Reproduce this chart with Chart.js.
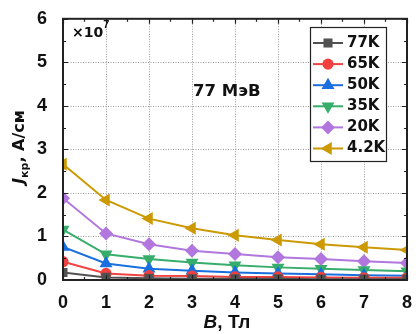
<!DOCTYPE html>
<html>
<head>
<meta charset="utf-8">
<script src="https://cdn.jsdelivr.net/npm/chart.js@4/dist/chart.umd.min.js"></script>
<style>
  html, body { margin: 0; padding: 0; background: #fff; }
  #wrap { width: 416px; height: 334px; position: relative; }
</style>
</head>
<body>
<div id="wrap"><canvas id="c" width="416" height="334"></canvas></div>
<script>
// Magnetic field, T
const fieldB = [0, 1, 2, 3, 4, 5, 6, 7, 8];
// Critical current density, units of 1e7 A/cm
const jc77K  = [0.17, 0.06, 0.04, 0.03, 0.03, 0.03, 0.02, 0.02, 0.02];
const jc65K  = [0.42, 0.15, 0.10, 0.09, 0.07, 0.07, 0.06, 0.05, 0.05];
const jc50K  = [0.76, 0.38, 0.26, 0.21, 0.17, 0.15, 0.13, 0.11, 0.10];
const jc35K  = [1.16, 0.59, 0.48, 0.40, 0.34, 0.29, 0.26, 0.23, 0.20];
const jc20K  = [1.88, 1.07, 0.82, 0.67, 0.60, 0.52, 0.48, 0.43, 0.39];
const jc4K   = [2.66, 1.84, 1.41, 1.19, 1.03, 0.92, 0.82, 0.75, 0.69];
const seriesLabels = ['77K', '65K', '50K', '35K', '20K', '4.2K'];
const yTicks = [0, 1, 2, 3, 4, 5, 6];

const SANS = '"Liberation Sans", Arial, sans-serif';
const WIDE = '"DejaVu Sans", sans-serif';
const colors = ['#515151', '#F14040', '#1A6FDF', '#37AD6B', '#B177DE', '#CC9900'];
const shapes = ['rect', 'circle', 'triangle', 'triangle', 'rectRot', 'triangle'];
const rotations = [0, 0, 0, 180, 0, -90];
const radii = [6.4, 5.6, 7.5, 7.5, 7, 7.5];
const allSeries = [jc77K, jc65K, jc50K, jc35K, jc20K, jc4K];

const datasets = allSeries.map((vals, i) => ({
  label: seriesLabels[i],
  data: fieldB.map((b, k) => ({ x: b, y: vals[k] })),
  borderColor: colors[i],
  backgroundColor: colors[i],
  borderWidth: 2,
  pointStyle: shapes[i],
  rotation: rotations[i],
  pointRadius: radii[i],
  pointBorderWidth: 0,
  clip: 0,
  tension: 0
}));

// Dotted grid under the data
const dottedGrid = {
  id: 'dottedGrid',
  beforeDatasetsDraw(chart) {
    const ctx = chart.ctx;
    const a = chart.chartArea;
    const xs = chart.scales.x, ys = chart.scales.y;
    ctx.save();
    ctx.strokeStyle = '#9a9a9a';
    ctx.lineWidth = 1;
    ctx.setLineDash([1, 1.5]);
    for (let v = 1; v <= 7; v++) {
      const px = Math.round(xs.getPixelForValue(v)) + 0.5;
      ctx.beginPath(); ctx.moveTo(px, a.top); ctx.lineTo(px, a.bottom); ctx.stroke();
    }
    for (let v = 1; v <= 5; v++) {
      const py = Math.round(ys.getPixelForValue(v)) + 0.5;
      ctx.beginPath(); ctx.moveTo(a.left, py); ctx.lineTo(a.right, py); ctx.stroke();
    }
    ctx.restore();
  }
};

// Frame, inward ticks, annotations, axis titles and legend box
const decor = {
  id: 'decor',
  afterDatasetsDraw(chart) {
    const ctx = chart.ctx;
    const a = chart.chartArea;
    const xs = chart.scales.x, ys = chart.scales.y;
    ctx.save();
    ctx.strokeStyle = '#222';
    ctx.lineWidth = 2;
    ctx.strokeRect(a.left, a.top, a.right - a.left, a.bottom - a.top);
    ctx.lineWidth = 1.2;
    for (let v = 0; v <= 8.001; v += 0.5) {
      const px = Math.round(xs.getPixelForValue(v)) + 0.5;
      const len = Number.isInteger(v) ? 5 : 3;
      ctx.beginPath();
      ctx.moveTo(px, a.bottom); ctx.lineTo(px, a.bottom - len);
      ctx.moveTo(px, a.top); ctx.lineTo(px, a.top + len);
      ctx.stroke();
    }
    for (let v = 0; v <= 6.001; v += 0.5) {
      const py = Math.round(ys.getPixelForValue(v)) + 0.5;
      const len = Number.isInteger(v) ? 5 : 3;
      ctx.beginPath();
      ctx.moveTo(a.left, py); ctx.lineTo(a.left + len, py);
      ctx.moveTo(a.right, py); ctx.lineTo(a.right - len, py);
      ctx.stroke();
    }
    // multiplier
    ctx.fillStyle = '#111';
    ctx.textBaseline = 'alphabetic';
    ctx.textAlign = 'left';
    ctx.font = 'bold 14px ' + WIDE;
    ctx.fillText('\u00d710', 72, 37);
    const mW = ctx.measureText('\u00d710').width;
    ctx.font = 'bold 11px ' + SANS;
    ctx.fillText('7', 72 + mW, 28);
    // energy label
    ctx.font = 'bold 16.5px ' + WIDE;
    ctx.fillText('77 \u041c\u044d\u0412', 193, 96);
    // x title
    ctx.font = 'italic bold 19px ' + SANS;
    const bW = ctx.measureText('B').width;
    ctx.font = 'bold 19px ' + SANS;
    const restW = ctx.measureText(', \u0422\u043b').width;
    let sx = 227 - (bW + restW) / 2;
    ctx.font = 'italic bold 19px ' + SANS;
    ctx.fillText('B', sx, 328);
    ctx.font = 'bold 19px ' + SANS;
    ctx.fillText(', \u0422\u043b', sx + bW, 328);
    // y title
    ctx.save();
    ctx.translate(24, 147);
    ctx.rotate(-Math.PI / 2);
    ctx.font = 'italic bold 16px ' + WIDE;
    const jW = ctx.measureText('J').width;
    ctx.font = 'bold 11px ' + WIDE;
    const subW = ctx.measureText('\u043a\u0440').width;
    ctx.font = 'bold 16px ' + WIDE;
    const tW = ctx.measureText(', \u0410/\u0441\u043c').width;
    let ty = -(jW + subW + tW) / 2;
    ctx.font = 'italic bold 16px ' + WIDE;
    ctx.fillText('J', ty, 0);
    ctx.font = 'bold 11px ' + WIDE;
    ctx.fillText('\u043a\u0440', ty + jW, 3.5);
    ctx.font = 'bold 16px ' + WIDE;
    ctx.fillText(', \u0410/\u0441\u043c', ty + jW + subW, 0);
    ctx.restore();
    // legend
    const lx = 310.5, ly = 27.5, lw = 76, lh = 134;
    ctx.fillStyle = '#fff';
    ctx.fillRect(lx, ly, lw, lh);
    ctx.strokeStyle = '#222';
    ctx.lineWidth = 1.2;
    ctx.strokeRect(lx, ly, lw, lh);
    chart.data.datasets.forEach((ds, i) => {
      const cy = 43 + i * 21.1;
      ctx.strokeStyle = ds.borderColor;
      ctx.lineWidth = 2;
      ctx.beginPath();
      ctx.moveTo(313, cy); ctx.lineTo(343, cy);
      ctx.stroke();
      ctx.fillStyle = ds.backgroundColor;
      Chart.helpers.drawPoint(ctx, {
        pointStyle: ds.pointStyle, rotation: ds.rotation,
        radius: ds.pointRadius, borderWidth: 0
      }, 328, cy);
      ctx.fillStyle = '#111';
      ctx.font = 'bold 15px ' + WIDE;
      ctx.textBaseline = 'middle';
      ctx.fillText(ds.label, 347, cy);
      ctx.textBaseline = 'alphabetic';
    });
    ctx.restore();
  }
};

new Chart(document.getElementById('c'), {
  type: 'line',
  data: { datasets },
  plugins: [dottedGrid, decor],
  options: {
    responsive: false,
    animation: false,
    devicePixelRatio: 1,
    layout: { padding: { left: 0, right: 7, top: 16, bottom: 0 } },
    plugins: { legend: { display: false }, tooltip: { enabled: false } },
    scales: {
      x: {
        type: 'linear', min: 0, max: 8,
        afterFit(s) { s.height = 54; },
        ticks: { stepSize: 1, color: '#111', font: { family: SANS, size: 18, weight: 'bold' }, padding: 4 },
        grid: { display: false },
        border: { display: false }
      },
      y: {
        type: 'linear', min: 0, max: 6,
        afterFit(s) { s.width = 63; },
        afterBuildTicks(s) { s.ticks = yTicks.map(v => ({ value: v })); },
        ticks: { color: '#111', font: { family: SANS, size: 18, weight: 'bold' }, padding: 8 },
        grid: { display: false },
        border: { display: false }
      }
    }
  }
});
</script>
</body>
</html>
